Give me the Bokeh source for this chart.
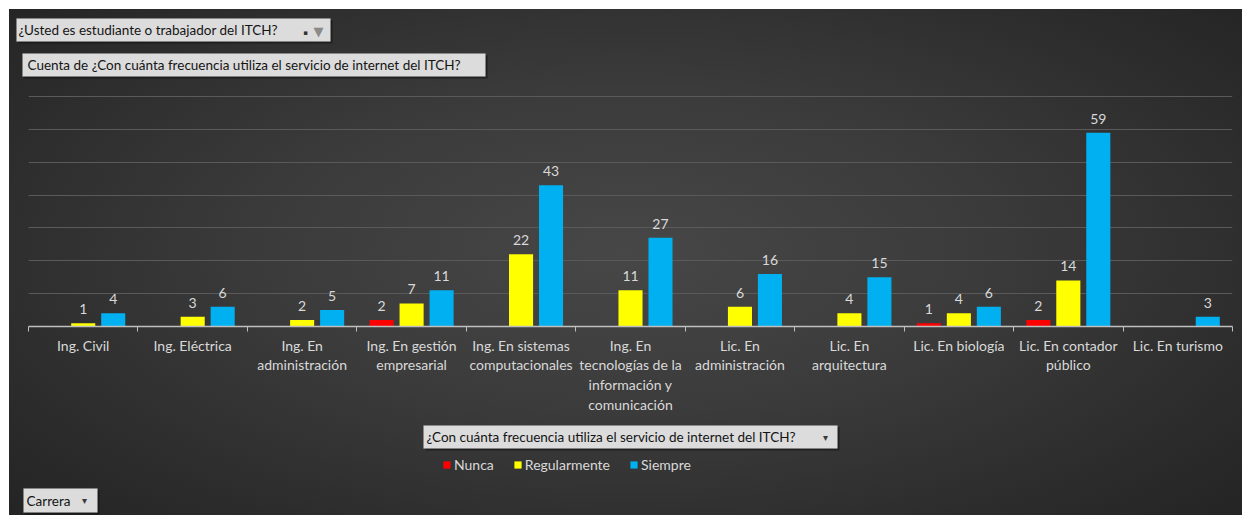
from bokeh.plotting import figure
from bokeh.layouts import column
from bokeh.models import (Range1d, LinearAxis, FixedTicker, ColumnDataSource, Legend, LegendItem,
                          Label, BoxAnnotation, Grid)
from bokeh.embed import file_html
from bokeh.resources import INLINE

# ---------------- data ----------------
categories = ["Ing. Civil", "Ing. Eléctrica", "Ing. En administración",
              "Ing. En gestión empresarial", "Ing. En sistemas computacionales",
              "Ing. En tecnologías de la información y comunicación",
              "Lic. En administración", "Lic. En arquitectura", "Lic. En biología",
              "Lic. En contador público", "Lic. En turismo"]
tick_labels = ["Ing. Civil", "Ing. Eléctrica", "Ing. En\nadministración",
               "Ing. En gestión\nempresarial", "Ing. En sistemas\ncomputacionales",
               "Ing. En\ntecnologías de la\ninformación y\ncomunicación",
               "Lic. En\nadministración", "Lic. En\narquitectura", "Lic. En biología",
               "Lic. En contador\npúblico", "Lic. En turismo"]
series = ["Nunca", "Regularmente", "Siempre"]
nunca = [0, 0, 0, 2, 0, 0, 0, 0, 1, 2, 0]
regularmente = [1, 3, 2, 7, 22, 11, 6, 4, 4, 14, 0]
siempre = [4, 6, 5, 11, 43, 27, 16, 15, 6, 59, 3]
y_max = 70
y_step = 10

filter_text = "¿Usted es estudiante o trabajador del ITCH?"
value_text = "Cuenta de ¿Con cuánta frecuencia utiliza el servicio de internet del ITCH?"
legend_title = "¿Con cuánta frecuencia utiliza el servicio de internet del ITCH?"
axis_field = "Carrera"

# ---------------- style ----------------
BG_CSS = ("radial-gradient(ellipse 72% 80% at 50% 48%, "
          "#474747 0%, #3b3b3b 40%, #2c2c2c 75%, #222222 100%)")
TXT = "#D9D9D9"
FONT = "Lato"
colors = ["#FF0000", "#FFFF00", "#00B0F0"]
offsets = [-0.274, 0.0, 0.274]
bar_w = 0.22
W = 1233

values = [nunca, regularmente, siempre]
n = len(categories)
centers = [i + 0.5 for i in range(n)]


def strip(h):
    f = figure(width=W, height=h, x_range=Range1d(0, W), y_range=Range1d(h, 0),
               output_backend="svg", toolbar_location=None,
               x_axis_location=None, y_axis_location=None,
               min_border=0, min_border_left=0, min_border_right=0,
               min_border_top=0, min_border_bottom=0, frame_align=False,
               background_fill_alpha=0, border_fill_alpha=0, outline_line_color=None)
    f.grid.grid_line_color = None
    return f


def button(f, left, right, top, bottom, text, tx, arrow=None, funnel=False):
    f.add_layout(BoxAnnotation(left=left + 2, right=right + 2, top=top + 2, bottom=bottom + 2,
                               fill_color="#111111", fill_alpha=0.55, line_color=None))
    f.add_layout(BoxAnnotation(left=left, right=right, top=top, bottom=bottom,
                               fill_color="#DCDCDC", fill_alpha=1, line_color="#8F8F8F",
                               line_width=1))
    cy = (top + bottom) / 2
    f.add_layout(Label(x=tx, y=cy, text=text, text_baseline="middle", text_color="#141414",
                       text_font=FONT, text_font_size="13.5px"))
    if arrow is not None:
        f.add_layout(Label(x=arrow, y=cy, text="▾", text_align="center", text_baseline="middle",
                           text_color="#3A3A3A", text_font="DejaVu Sans", text_font_size="10px"))
    if funnel:
        f.add_layout(Label(x=right - 12, y=cy + 1, text="▼", text_align="center",
                           text_baseline="middle", text_color="#8A8A8A",
                           text_font="DejaVu Sans", text_font_size="13px"))
        f.add_layout(Label(x=right - 25, y=cy + 3, text="▪", text_align="center",
                           text_baseline="middle", text_color="#333333",
                           text_font="DejaVu Sans", text_font_size="7px"))


# ---------------- top strip (filter buttons) ----------------
ft = strip(86)
button(ft, 7, 321, 9, 32, filter_text, 9, funnel=True)
button(ft, 13, 476, 44, 67, value_text, 18)

# ---------------- main chart ----------------
p = figure(x_range=Range1d(0, n), y_range=Range1d(0, y_max + 0.3),
           width=W, height=323, output_backend="svg", toolbar_location=None,
           x_axis_location=None, y_axis_location=None, frame_align=False,
           min_border_left=19, min_border_right=10, min_border_top=0, min_border_bottom=92,
           background_fill_alpha=0, border_fill_alpha=0, outline_line_color=None)
p.grid.grid_line_color = None
p.add_layout(Grid(dimension=1, ticker=FixedTicker(ticks=list(range(y_step, y_max + 1, y_step))),
                  grid_line_color="#5A5A5A", grid_line_width=1))

xaxis = LinearAxis(ticker=FixedTicker(ticks=centers, minor_ticks=list(range(n + 1))),
                   axis_line_color="#BFBFBF", axis_line_width=1.5,
                   major_tick_line_color=None, major_tick_out=0, major_tick_in=0,
                   minor_tick_line_color="#BFBFBF", minor_tick_out=5, minor_tick_in=0,
                   minor_tick_line_width=1,
                   major_label_overrides=dict(zip(centers, tick_labels)),
                   major_label_text_color=TXT, major_label_text_font=FONT,
                   major_label_text_font_size="14px",
                   major_label_text_line_height=1.16,
                   major_label_standoff=5)
p.add_layout(xaxis, "below")

sources = []
for name, vals, col, off in zip(series, values, colors, offsets):
    xs = [c + off for c in centers]
    src = ColumnDataSource(dict(x=xs, top=vals))
    sources.append(src)
    p.vbar(x="x", top="top", width=bar_w, source=src, fill_color=col, line_color=None)
    lx = [x for x, v in zip(xs, vals) if v > 0]
    lv = [v for v in vals if v > 0]
    lsrc = ColumnDataSource(dict(x=lx, y=lv, t=[str(v) for v in lv]))
    p.text(x="x", y="y", text="t", source=lsrc,
           text_align="center", text_baseline="bottom", y_offset=-9,
           text_color=TXT, text_font={"value": FONT}, text_font_size="14px")

# ---------------- bottom strip (legend) ----------------
fb = strip(97)
fb.extra_y_ranges = {"offscreen": Range1d(1000, 2000)}
button(fb, 414, 828, 7, 30, legend_title, 417, arrow=816)
items = []
for name, src, col in zip(series, sources, colors):
    r = fb.vbar(x="x", top="top", width=bar_w, source=src, fill_color=col, line_color=None,
                y_range_name="offscreen")
    items.append(LegendItem(label=name, renderers=[r]))
legend = Legend(items=items, orientation="horizontal", location=(433, 42),
                background_fill_alpha=0, border_line_color=None, padding=0, margin=0,
                spacing=19, label_standoff=3, glyph_width=9, glyph_height=9,
                label_height=18, label_text_color=TXT, label_text_font=FONT,
                label_text_font_size="14px")
fb.add_layout(legend)
button(fb, 14, 88, 70, 94, axis_field, 17, arrow=75)

layout = column(ft, p, fb, spacing=0, margin=(9, 0, 0, 9),
                styles={"background": BG_CSS})
open("out.html", "w").write(file_html(layout, INLINE))
